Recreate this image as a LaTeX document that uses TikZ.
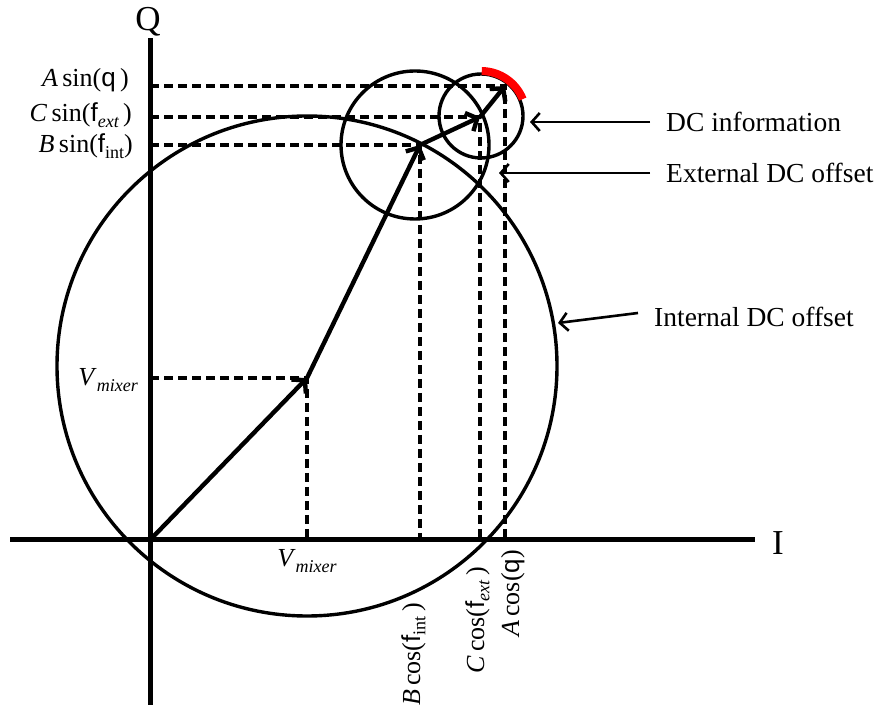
\documentclass[tikz,border=0pt]{standalone}
\usepackage{fontspec}
\setmainfont{Liberation Serif}
\newfontfamily\symf{Liberation Sans}
\usetikzlibrary{arrows.meta}
\newcommand{\sbi}[1]{\raisebox{-0.45ex}{\fontsize{18}{18}\selectfont\itshape #1}}
\newcommand{\sbu}[1]{\raisebox{-0.45ex}{\fontsize{18}{18}\selectfont #1}}
\begin{document}
\begin{tikzpicture}[x=1pt,y=1pt,
  axis/.style={line width=5pt},
  ring/.style={line width=3.4pt},
  guide/.style={line width=3.2pt, dash pattern=on 9pt off 5pt},
  vec/.style={line width=4.4pt, line cap=round, -{Straight Barb[length=9pt,width=20pt]}},
  pointer/.style={line width=2.6pt, -{Straight Barb[length=8pt,width=18pt]}},
  lbl/.style={inner sep=0pt, font=\fontsize{26}{30}\selectfont},
  rlbl/.style={inner sep=0pt, font=\fontsize{27.5}{30}\selectfont},
  big/.style={inner sep=0pt, font=\fontsize{35}{38}\selectfont}]
\useasboundingbox (0,0) rectangle (881,715);
% key points
\coordinate (O) at (150,175);
\coordinate (V) at (307,337);
\coordinate (B) at (420,570);
\coordinate (C) at (480,598);
\coordinate (A) at (505,629);
\coordinate (Qt) at (150,677);
\coordinate (Qb) at (150,10);
\coordinate (Il) at (10,175);
\coordinate (Ir) at (755,175);
% dashed guides
\draw[guide] (V -| O) -- (V) -- (V |- O);
\draw[guide] (B -| O) -- (B) -- (B |- O);
\draw[guide] (C -| O) -- (C) -- (C |- O);
\draw[guide] (A -| O) -- (A) -- (A |- O);
% circles
\draw[ring] (307,349) circle[radius=250];
\draw[ring] (415,570) circle[radius=74];
\draw[ring] (481,599) circle[radius=42];
\draw[red, line width=8pt] (481,599) ++(22:45) arc[start angle=22, end angle=89, radius=45];
% axes
\draw[axis] (Qb) -- (Qt);
\draw[axis] (Il) -- (Ir);
\node[big] (q) at (148,693) {Q};
\node[big] (i) at (778,172) {I};
% vectors
\draw[vec] (O) -- (V);
\draw[vec] (V) -- (B);
\draw[vec] (B) -- (C);
\draw[vec] (C) -- (A);
% left labels
\node[lbl, anchor=base east] (asin) at (129,628) {\textit{A}\,sin({\symf q}\,)};
\node[lbl, anchor=base east] (csin) at (132,593) {\textit{C}\,sin({\symf f}\sbi{ext}\,)};
\node[lbl, anchor=base east] (bsin) at (133,562) {\textit{B}\,sin({\symf f}\sbu{int})};
\node[lbl, anchor=east] (vml) at (138,335) {\textit{V}\sbi{mixer}};
\node[lbl, anchor=center] (vmb) at (307,154) {\textit{V}\sbi{mixer}};
% bottom rotated labels
\node[lbl, rotate=90, anchor=base east] (bcos) at (420,112) {\textit{B}\,cos({\symf f}\sbu{int}\,)};
\node[lbl, rotate=90, anchor=base east] (ccos) at (484,148) {\textit{C}\,cos({\symf f}\sbi{ext}\,)};
\node[lbl, rotate=90, anchor=base east] (acos) at (519,165) {\textit{A}\,cos({\symf q})};
% right pointer labels
\node[rlbl, anchor=west] (dci) at (666,593) {DC information};
\node[rlbl, anchor=west] (edc) at (666,542) {External DC offset};
\node[rlbl, anchor=west] (idc) at (654,398) {Internal DC offset};
\draw[pointer] (650,593) -- (530,593);
\draw[pointer] (650,542) -- (499,542);
\draw[pointer] (638,402) -- (558,392);
\end{tikzpicture}
\end{document}
